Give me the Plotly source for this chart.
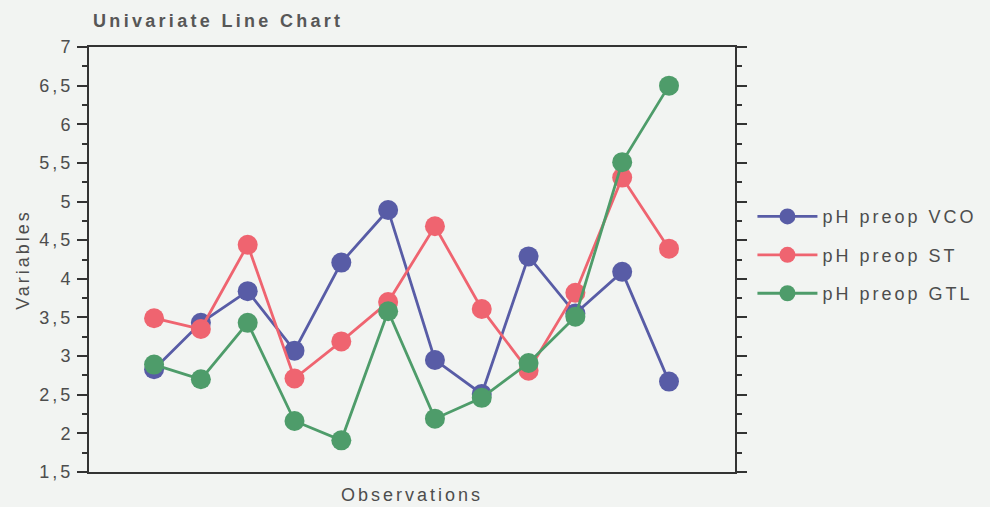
import plotly.graph_objects as go

# Observation index and the three measured series
observations = list(range(1, 13))
ph_vco = [2.83, 3.43, 3.84, 3.07, 4.21, 4.89, 2.95, 2.51, 4.29, 3.55, 4.09, 2.67]
ph_st = [3.49, 3.35, 4.44, 2.71, 3.19, 3.70, 4.68, 3.61, 2.81, 3.82, 5.31, 4.39]
ph_gtl = [2.89, 2.70, 3.43, 2.16, 1.91, 3.58, 2.19, 2.46, 2.91, 3.51, 5.51, 6.50]

series = [
    ("pH preop VCO", ph_vco, "#585ca6"),
    ("pH preop ST", ph_st, "#ef6470"),
    ("pH preop GTL", ph_gtl, "#4e9c6a"),
]

y_ticks = [1.5, 2, 2.5, 3, 3.5, 4, 4.5, 5, 5.5, 6, 6.5, 7]

fig = go.Figure()
for name, values, color in series:
    fig.add_trace(go.Scatter(
        x=observations, y=values, name=name, legendgroup=name,
        mode="lines+markers",
        line=dict(color=color, width=2.8),
        marker=dict(color=color, size=20),
    ))

text_color = "#4d4d4d"
bg = "#f2f4f2"
axis_color = "#333333"

fig.update_layout(
    width=990, height=507,
    margin=dict(l=89, r=255, t=47, b=35),
    paper_bgcolor=bg, plot_bgcolor=bg,
    separators=", ",
    font=dict(family="Liberation Sans, Arial, sans-serif", size=18, color=text_color),
    title=dict(text="<b>Univariate Line Chart</b>", x=0.094, xanchor="left",
               y=0.96, yanchor="middle",
               font=dict(size=18, color="#575757")),
    showlegend=True,
    legend=dict(x=1.027, y=0.51, xanchor="left", yanchor="middle",
                bgcolor="rgba(0,0,0,0)", borderwidth=0,
                font=dict(size=18, color=text_color),
                itemwidth=60, tracegroupgap=12),
    xaxis=dict(
        range=[-0.39, 13.41], showticklabels=False, ticks="",
        showgrid=False, zeroline=False, automargin=False,
        showline=True, linecolor=axis_color, linewidth=2, mirror=True,
        title=dict(text="Observations", standoff=15,
                   font=dict(size=18, color=text_color)),
    ),
    yaxis=dict(
        range=[1.5, 7], tickvals=y_ticks, ticks="outside", ticklen=10,
        tickwidth=1.5, tickcolor=axis_color,
        minor=dict(dtick=0.25, ticks="outside", ticklen=5, tickwidth=1.5,
                   tickcolor=axis_color),
        showgrid=False, zeroline=False, automargin=False,
        showline=True, linecolor=axis_color, linewidth=2, mirror="ticks",
        tickfont=dict(size=18, color=text_color),
        title=dict(text="Variables", standoff=14,
                   font=dict(size=18, color=text_color)),
    ),
)

# Widen the lettering of every text element after the plot is drawn,
# and let the legend labels run past the box measured for them
spacing_js = """
var gd = document.getElementById('{plot_id}');
function spread(sel, v) {
    gd.querySelectorAll(sel).forEach(function (t) { t.style.letterSpacing = v; });
}
spread('text.gtitle', '3.3px');
spread('text.legendtext', '3px');
spread('g.ytick text', '3px');
spread('text.ytitle', '3px');
spread('text.xtitle', '3px');
gd.querySelectorAll('g.legend [clip-path], g.legend').forEach(function (e) {
    e.removeAttribute('clip-path');
});
"""

fig.write_html("out.html", post_script=spacing_js)
